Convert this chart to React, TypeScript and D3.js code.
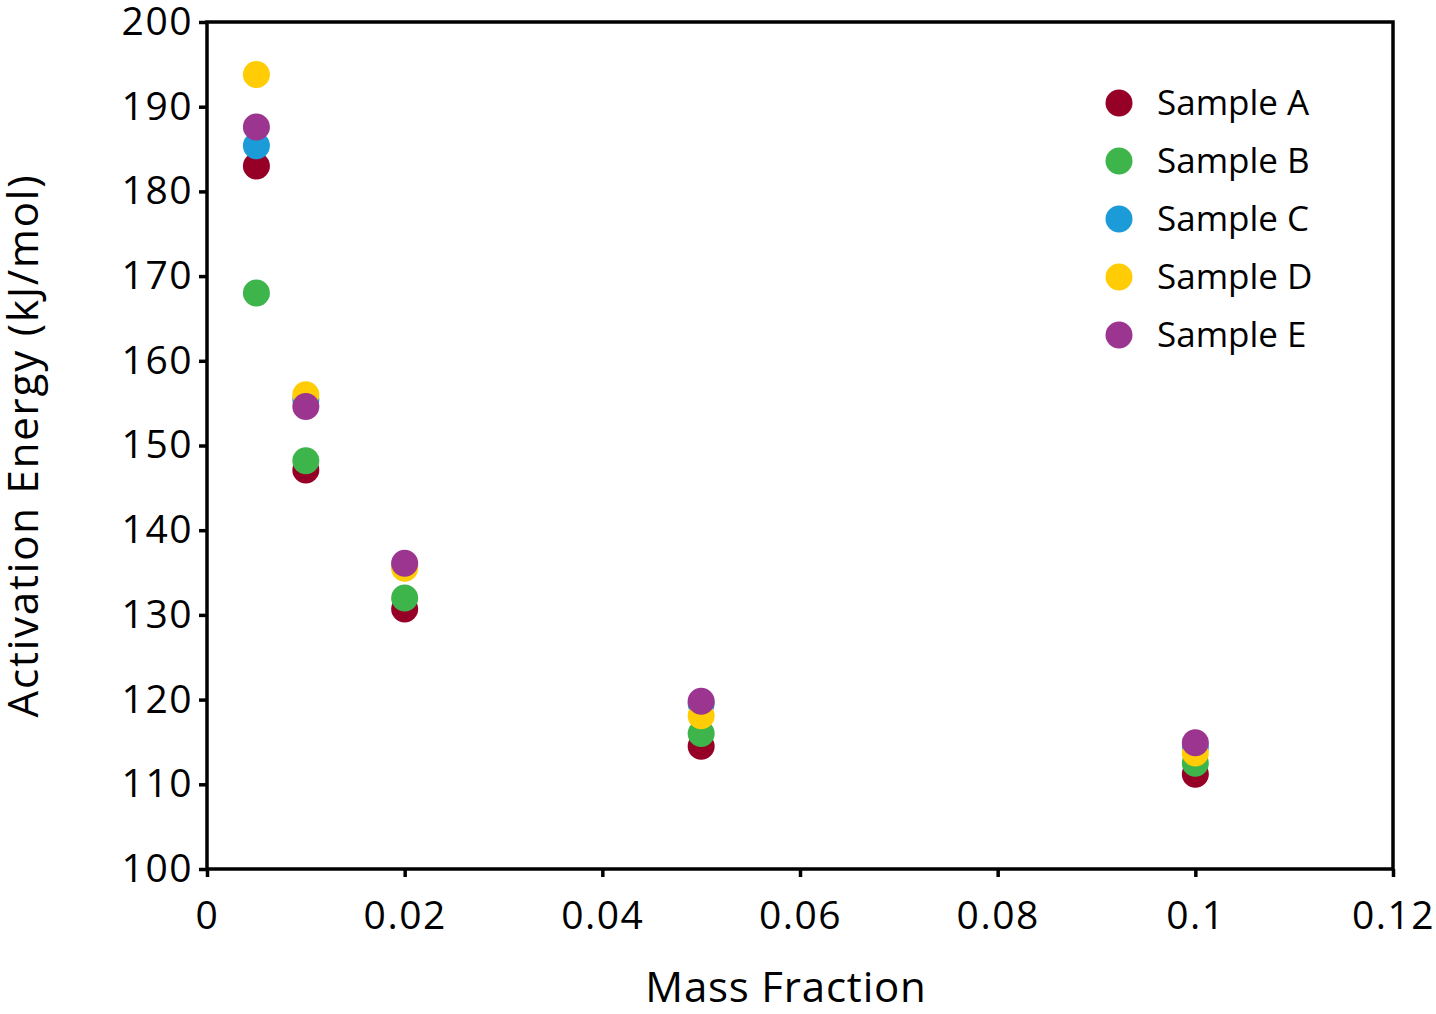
import * as d3 from 'd3'
import { useEffect, useRef } from 'react'

const massFraction = [0.005, 0.01, 0.02, 0.05, 0.1]
const sampleNames = ['Sample A', 'Sample B', 'Sample C', 'Sample D', 'Sample E']
const sampleColors = ['#960027', '#3db54a', '#1b9bd7', '#ffcc05', '#9c3590']
const sampleA = [183.0, 147.1, 130.7, 114.5, 111.2]
const sampleB = [168.0, 148.2, 132.0, 116.0, 112.5]
const sampleC = [185.4, 155.4, 135.8, 119.5, 114.4]
const sampleD = [193.8, 156.0, 135.5, 118.1, 113.7]
const sampleE = [187.6, 154.6, 136.1, 119.8, 114.9]
const seriesValues = [sampleA, sampleB, sampleC, sampleD, sampleE]
const xTicks = [0, 0.02, 0.04, 0.06, 0.08, 0.1, 0.12]
const yTicks = [100, 110, 120, 130, 140, 150, 160, 170, 180, 190, 200]

const W = 1436
const H = 1014
const FONT = '"Open Sans", sans-serif'

export default function App() {
  const ref = useRef<SVGSVGElement | null>(null)

  useEffect(() => {
    const svgEl = ref.current
    if (!svgEl) return
    const svg = d3.select(svgEl)
    svg.selectAll('*').remove()

    const left = 207
    const right = 1393
    const top = 22
    const bottom = 869

    const x = d3.scaleLinear().domain([0, 0.12]).range([left, right])
    const y = d3.scaleLinear().domain([100, 200]).range([bottom, top])

    // frame
    svg
      .append('rect')
      .attr('x', left)
      .attr('y', top)
      .attr('width', right - left)
      .attr('height', bottom - top)
      .attr('fill', 'none')
      .attr('stroke', '#000')
      .attr('stroke-width', 3.5)

    const xAxis = svg
      .append('g')
      .attr('transform', `translate(0,${bottom})`)
      .call(
        d3
          .axisBottom(x)
          .tickValues(xTicks)
          .tickSize(8)
          .tickPadding(24)
          .tickFormat((d) => d3.format('')(+(+d).toFixed(2))),
      )
    xAxis.select('.domain').remove()
    xAxis.selectAll('line').attr('stroke', '#000').attr('stroke-width', 3.5)
    xAxis
      .selectAll('text')
      .attr('font-family', FONT)
      .attr('font-size', 39)
      .attr('letter-spacing', 1.5)
      .attr('fill', '#000')

    const yAxis = svg
      .append('g')
      .attr('transform', `translate(${left},0)`)
      .call(d3.axisLeft(y).tickValues(yTicks).tickSize(8).tickPadding(6))
    yAxis.select('.domain').remove()
    yAxis.selectAll('line').attr('stroke', '#000').attr('stroke-width', 3.5)
    yAxis
      .selectAll('text')
      .attr('font-family', FONT)
      .attr('font-size', 39)
      .attr('letter-spacing', 1.5)
      .attr('fill', '#000')

    // axis titles
    svg
      .append('text')
      .attr('x', 786)
      .attr('y', 1002)
      .attr('text-anchor', 'middle')
      .attr('font-family', FONT)
      .attr('font-size', 42)
      .attr('letter-spacing', 0.8)
      .attr('fill', '#000')
      .text('Mass Fraction')

    svg
      .append('text')
      .attr('transform', `translate(38,${(top + bottom) / 2}) rotate(-90)`)
      .attr('text-anchor', 'middle')
      .attr('font-family', FONT)
      .attr('font-size', 42)
      .attr('letter-spacing', 1.8)
      .attr('fill', '#000')
      .text('Activation Energy (kJ/mol)')

    // points
    const gPts = svg.append('g')
    seriesValues.forEach((vals, i) => {
      vals.forEach((v, j) => {
        gPts
          .append('circle')
          .attr('cx', x(massFraction[j]))
          .attr('cy', y(v))
          .attr('r', 13.5)
          .attr('fill', sampleColors[i])
      })
    })

    // legend
    const lg = svg.append('g').attr('transform', 'translate(1119,103)')
    sampleNames.forEach((name, i) => {
      const row = lg.append('g').attr('transform', `translate(0,${i * 58})`)
      row.append('circle').attr('r', 13.5).attr('fill', sampleColors[i])
      row
        .append('text')
        .attr('x', 38)
        .attr('dy', '0.35em')
        .attr('font-family', FONT)
        .attr('font-size', 35)
        .attr('fill', '#000')
        .text(name)
    })
  }, [])

  return (
    <svg
      ref={ref}
      width={W}
      height={H}
      viewBox={`0 0 ${W} ${H}`}
      style={{ display: 'block', position: 'absolute', left: 0, top: 0, background: '#fff' }}
    />
  )
}
